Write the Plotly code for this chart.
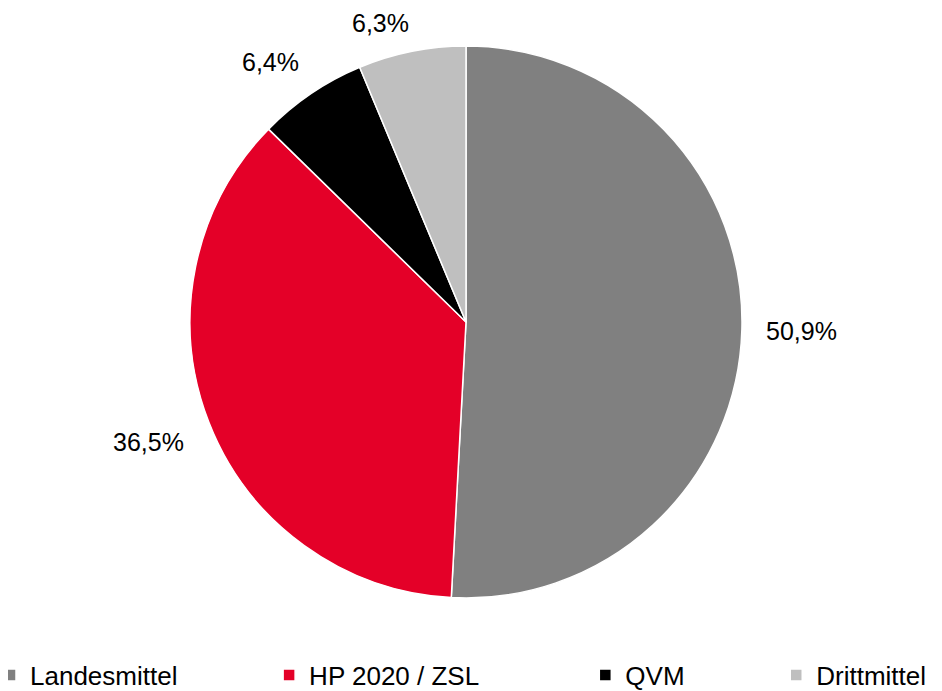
import math
import plotly.graph_objects as go

labels = ["Landesmittel", "HP 2020 / ZSL", "QVM", "Drittmittel"]
values = [50.9, 36.5, 6.4, 6.3]
colors = ["#808080", "#E40028", "#000000", "#BFBFBF"]
text_labels = [f"{v:.1f}".replace(".", ",") + "%" for v in values]

# legend spacing helper (non-breaking spaces after each legend name)
legend_pad = [12, 14, 12, 0]
legend_names = [l + "\u00a0" * p for l, p in zip(labels, legend_pad)]

W, H = 942, 691
B = 60                 # bottom margin (legend lives there)
PW, PH = W, H - B      # plot area size
FONT = "Arial, Liberation Sans, sans-serif"
# pie geometry in figure pixels (page body adds an 8px offset)
cx, cy, r = 458, 314, 276
dom_x = [(cx - r) / PW, (cx + r) / PW]
dom_y = [(PH - cy - r) / PH, (PH - cy + r) / PH]

fig = go.Figure(go.Pie(
    labels=legend_names, values=values,
    textinfo="none",
    sort=False, direction="clockwise", rotation=0,
    marker=dict(colors=colors, line=dict(color="white", width=1.5)),
    domain=dict(x=dom_x, y=dom_y),
    hovertext=labels, hoverinfo="text+percent",
))


def clip(v):
    return max(-1.0, min(1.0, v))


# data labels outside the slices, derived from the slice mid-angles
total = sum(values)
cum = 0.0
char_w = 14.3
box_h = 28
for v, t in zip(values, text_labels):
    mid = (cum + v / 2) / total * 2 * math.pi
    cum += v
    sx, sy = math.sin(mid), math.cos(mid)
    w = char_w * len(t)
    d = r + 24 * abs(sx) + 10 * abs(sy)
    px = cx + d * sx + w / 2 * clip(sx * 5)
    py = cy - d * sy - box_h / 2 * clip(sy * 2)
    fig.add_annotation(x=px / PW, y=(PH - py) / PH, xref="paper", yref="paper",
                       text=t, showarrow=False, xanchor="center", yanchor="middle",
                       font=dict(size=25, color="black", family=FONT))

fig.update_layout(
    width=W, height=H,
    margin=dict(l=0, r=0, t=0, b=B, autoexpand=False),
    paper_bgcolor="white", plot_bgcolor="white",
    font=dict(family=FONT, size=25, color="black"),
    showlegend=True,
    legend=dict(orientation="h", x=-18 / PW, xanchor="left",
                y=(PH - 667) / PH, yanchor="middle",
                itemwidth=30, font=dict(size=26, family=FONT)),
)
fig.write_html("out.html")
